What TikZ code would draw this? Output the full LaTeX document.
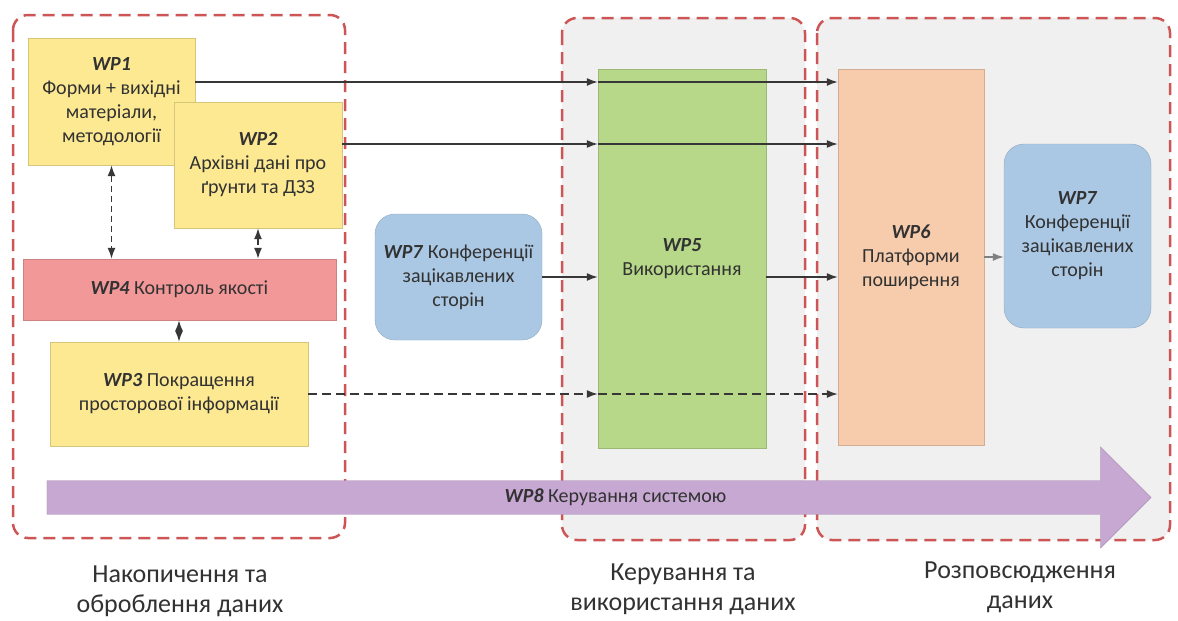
\documentclass[tikz,border=0pt]{standalone}
\usepackage{fontspec}
\setmainfont{Carlito}
\usetikzlibrary{arrows.meta,shapes.arrows,calc}

\definecolor{txtgray}{RGB}{50,50,50}
\definecolor{framered}{RGB}{205,85,85}
\definecolor{stagegray}{RGB}{240,240,240}
\definecolor{wpyellow}{RGB}{252,233,146}
\definecolor{wppink}{RGB}{242,152,152}
\definecolor{wpblue}{RGB}{170,200,228}
\definecolor{wpgreen}{RGB}{182,216,136}
\definecolor{wppeach}{RGB}{247,204,173}
\definecolor{wppurple}{RGB}{198,168,210}
\definecolor{linegray}{RGB}{55,55,55}

\newcommand{\wpno}[1]{\textbf{\textit{#1}}}

\tikzset{
	stage/.style={draw=framered, line width=2.5pt, dash pattern=on 12pt off 7pt, rounded corners=15pt},
	wpbox/.style={draw=#1!85!black, fill=#1, align=center, inner sep=2pt},
	wpround/.style={wpbox=#1, rounded corners=20pt},
	flow/.style={->, draw=linegray, line width=1.4pt},
	qa/.style={<->, draw=linegray, line width=1.4pt},
	caption/.style={align=center, font=\fontsize{26}{30}\selectfont, text=txtgray}
}

\begin{document}
\begin{tikzpicture}[x=1pt,y=-1pt,>={Latex[length=11pt,width=8pt]},
		font=\fontsize{20}{24}\selectfont, text=txtgray]
		\useasboundingbox[fill=white] (0,0) rectangle (1178,621);
		%--- Stage frames ---
		\draw[stage, fill=white] (13,15) rectangle (345,538);
		\draw[stage, fill=stagegray] (562,18) rectangle (805,540);
		\draw[stage, fill=stagegray] (817,18) rectangle (1170,540);

		%--- Work packages ---
		\node[wpbox=wpyellow, minimum width=167, minimum height=127] (wp1) at (111.5,101.5)
		{\wpno{WP1}\\Форми + вихідні\\матеріали,\\методології};
		\node[wpbox=wpyellow, minimum width=168, minimum height=126] (wp2) at (258,165)
		{\wpno{WP2}\\Архівні дані про\\ґрунти та ДЗЗ};
		\node[wpbox=wppink, minimum width=313, minimum height=61] (wp4) at (179.5,289.5)
		{\wpno{WP4} Контроль якості};
		\node[wpbox=wpyellow, minimum width=258, minimum height=104] (wp3) at (179,394)
		{\wpno{WP3} Покращення\\просторової інформації};
		\node[wpround=wpblue, minimum width=167, minimum height=126] (wp7a) at (458.5,277)
		{\wpno{WP7} Конференції\\зацікавлених\\сторін};
		\node[wpbox=wpgreen, minimum width=168, minimum height=379] (wp5) at (682,258.5)
		{\wpno{WP5}\\Використання};
		\node[wpbox=wppeach, minimum width=146, minimum height=376] (wp6) at (911,257)
		{\wpno{WP6}\\Платформи\\поширення};
		\node[wpround=wpblue, minimum width=147, minimum height=184] (wp7b) at (1077.5,236)
		{\wpno{WP7}\\Конференції\\зацікавлених\\сторін};

		%--- Data flows ---
		\coordinate (row1) at (0,82);
		\coordinate (row2) at (0,144);
		\coordinate (row3) at (0,277);
		\coordinate (row4) at (0,394);
		\draw[flow] (wp1.east |- row1) -- (wp5.west |- row1);
		\draw[flow] (wp5.west |- row1) -- (wp6.west |- row1);
		\draw[flow] (wp2.east |- row2) -- (wp5.west |- row2);
		\draw[flow] (wp5.west |- row2) -- (wp6.west |- row2);
		\draw[flow] (wp7a.east |- row3) -- (wp5.west |- row3);
		\draw[flow] (wp5.east |- row3) -- (wp6.west |- row3);
		\draw[flow, dash pattern=on 9pt off 5pt] (wp3.east |- row4) -- (wp5.west |- row4);
		\draw[flow, dash pattern=on 9pt off 5pt] (wp5.west |- row4) -- (wp6.west |- row4);
		\draw[flow, draw=gray] (wp6.east) -- (wp7b.west |- wp6.east);

		% quality control links
		\draw[qa, dash pattern=on 6pt off 4pt] (wp1.south) -- (wp1.south |- wp4.north);
		\draw[qa, dash pattern=on 6pt off 4pt] (wp2.south) -- (wp2.south |- wp4.north);
		\draw[qa] (wp4.south -| wp3.north) -- (wp3.north);

		%--- System management arrow ---
		\node[single arrow, fill=wppurple, draw=wppurple!85!black, minimum height=1104,
			minimum width=101, single arrow head extend=33, inner xsep=0pt, inner ysep=8pt]
		(wp8) at (590.5,497.5) {\hspace*{50pt}\wpno{WP8} Керування системою};

		%--- Stage captions ---
		\node[caption] (cap1) at (180,591) {Накопичення та\\оброблення даних};
		\node[caption] (cap2) at (683,589) {Керування та\\використання даних};
		\node[caption] (cap3) at (1020,587) {Розповсюдження\\даних};
	\end{tikzpicture}
\end{document}
